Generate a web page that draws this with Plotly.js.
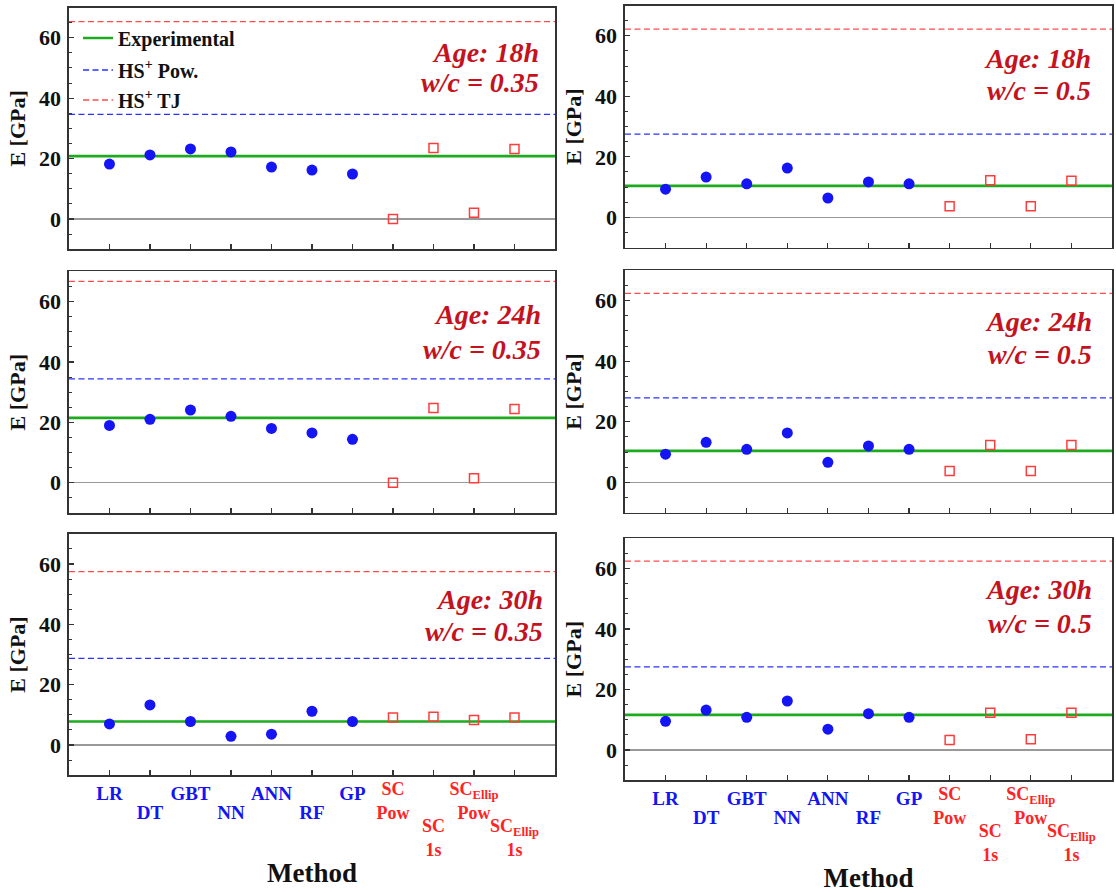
<!DOCTYPE html>
<html><head><meta charset="utf-8">
<script src="https://cdn.plot.ly/plotly-3.0.1.min.js"></script>
<style>html,body{margin:0;padding:0;background:#fff}#chart{width:1116px;height:893px}</style>
</head><body><div id="chart"></div>
<script>
// ---------- data ----------
const methods = ['LR','DT','GBT','NN','ANN','RF','GP','SC Pow','SC 1s','SC Ellip Pow','SC Ellip 1s'];
const tickLabels = ['LR','DT','GBT','NN','ANN','RF','GP','SC<br>Pow','SC<br>1s','SC<sub>Ellip</sub><br>Pow','SC<sub>Ellip</sub><br>1s'];
const yTicks = [0, 20, 40, 60];
const mlMethods = methods.slice(0, 7);
const scMethods = methods.slice(7);
const panelAges = ['18h','18h','24h','24h','30h','30h'];
const panelWC   = ['0.35','0.5','0.35','0.5','0.35','0.5'];
// machine-learning predictions of E [GPa]
const ml_18h_035 = [18.2, 21.2, 23.2, 22.2, 17.2, 16.2, 14.9];
const ml_18h_05  = [9.3, 13.3, 11.1, 16.3, 6.4, 11.7, 11.1];
const ml_24h_035 = [19.0, 21.0, 24.1, 22.0, 18.0, 16.5, 14.4];
const ml_24h_05  = [9.3, 13.2, 10.9, 16.3, 6.6, 12.0, 10.9];
const ml_30h_035 = [7.0, 13.3, 7.8, 2.9, 3.6, 11.2, 7.8];
const ml_30h_05  = [9.5, 13.2, 10.8, 16.2, 6.9, 12.0, 10.8];
// self-consistent scheme estimates of E [GPa]
const sc_18h_035 = [0.0, 23.5, 2.1, 23.2];
const sc_18h_05  = [3.7, 12.3, 3.7, 12.1];
const sc_24h_035 = [0.0, 24.8, 1.5, 24.4];
const sc_24h_05  = [3.7, 12.3, 3.7, 12.3];
const sc_30h_035 = [9.1, 9.4, 8.3, 9.1];
const sc_30h_05  = [3.3, 12.3, 3.6, 12.3];
// reference levels per panel
const expE   = [20.8, 10.4, 21.5, 10.4, 7.8, 11.6];
const hsPowE = [34.6, 27.5, 34.4, 27.9, 28.7, 27.5];
const hsTJE  = [65.3, 62.2, 66.7, 62.4, 57.5, 62.4];

// ---------- layout helpers ----------
const mlSets = [ml_18h_035, ml_18h_05, ml_24h_035, ml_24h_05, ml_30h_035, ml_30h_05];
const scSets = [sc_18h_035, sc_18h_05, sc_24h_035, sc_24h_05, sc_30h_035, sc_30h_05];
const FONT = 'Liberation Serif, Times New Roman, serif';
const BLUE = 'rgb(20,20,245)', RED = 'rgb(255,35,35)', DARKRED = 'rgb(196,18,30)';
const SQRED = 'rgb(255,60,60)';
const xRange = [-1, 11];
const yRange = [-10, 70];
const xIdx = methods.map((m, i) => i);
const xDoms = [[0.0618, 0.4973], [0.5600, 0.9964]];
const yDoms = [[0.7209,0.9916],[0.7227,0.9938],[0.4256,0.6960],[0.4260,0.6972],[0.1319,0.4022],[0.1262,0.3974]];
const annPos = [[0.972,0.813,0.689],[0.962,0.782,0.651],[0.975,0.820,0.678],[0.964,0.788,0.651],[0.979,0.729,0.594],[0.963,0.786,0.648]];
// rows of staggered method labels (indices into methods)
const rows = [
  {idx:[0,2,4,6], color:BLUE, size:19, standoff:5},
  {idx:[1,3,5], color:BLUE, size:19, standoff:24},
  {idx:[7,9], color:RED, size:18, standoff:1},
  {idx:[8,10], color:RED, size:18, standoff:38}
];
const sfx = n => (n === 1 ? '' : String(n));
const bold = s => '<b>' + s + '</b>';

const traces = [];
const legFont = {family:FONT, size:20, weight:'bold', color:'#111'};
const layout = {
  width: 1116, height: 893,
  margin: {l:0, r:0, t:0, b:0},
  paper_bgcolor: '#fff', plot_bgcolor: '#fff',
  font: {family: FONT, color: '#111'},
  annotations: [],
  legend:  {x: 78/1116, xanchor:'left', y: 1-38/893, yanchor:'middle', bgcolor:'rgba(0,0,0,0)', font:legFont},
  legend2: {x: 78/1116, xanchor:'left', y: 1-70/893, yanchor:'middle', bgcolor:'rgba(0,0,0,0)', font:legFont},
  legend3: {x: 78/1116, xanchor:'left', y: 1-100/893, yanchor:'middle', bgcolor:'rgba(0,0,0,0)', font:legFont}
};

function pointTraces(p, xa, ya, subset) {
  // markers of panel p for methods whose index is in subset
  const mlX = [], mlY = [], scX = [], scY = [];
  mlMethods.forEach((m, k) => { const i = methods.indexOf(m); if (subset.includes(i)) { mlX.push(i); mlY.push(mlSets[p][k]); } });
  scMethods.forEach((m, k) => { const i = methods.indexOf(m); if (subset.includes(i)) { scX.push(i); scY.push(scSets[p][k]); } });
  if (mlX.length) traces.push({type:'scatter', mode:'markers', x:mlX, y:mlY, xaxis:xa, yaxis:ya,
    marker:{color:BLUE, size:11, symbol:'circle'}, showlegend:false, name:'ML'});
  if (scX.length) traces.push({type:'scatter', mode:'markers', x:scX, y:scY, xaxis:xa, yaxis:ya,
    marker:{color:SQRED, size:9, symbol:'square-open', line:{width:1.5, color:SQRED}}, showlegend:false, name:'SC'});
}

let extra = 7;
for (let p = 0; p < 6; p++) {
  const n = p + 1, xa = 'x' + sfx(n), ya = 'y' + sfx(n);
  const bottom = p >= 4;
  const first = p === 0;
  traces.push({type:'scatter', mode:'lines', x:xRange, y:[expE[p], expE[p]], xaxis:xa, yaxis:ya,
    line:{color:'rgb(30,170,30)', width:2.6}, name:'Experimental', showlegend:first, legend:'legend', hoverinfo:'skip'});
  traces.push({type:'scatter', mode:'lines', x:xRange, y:[hsPowE[p], hsPowE[p]], xaxis:xa, yaxis:ya,
    line:{color:'rgb(40,50,255)', width:1.3, dash:'6px,3.5px'}, name:'HS<sup>+</sup> Pow.', showlegend:first, legend:'legend2', hoverinfo:'skip'});
  traces.push({type:'scatter', mode:'lines', x:xRange, y:[hsTJE[p], hsTJE[p]], xaxis:xa, yaxis:ya,
    line:{color:'rgb(255,75,75)', width:1.3, dash:'6px,3.5px'}, name:'HS<sup>+</sup> TJ', showlegend:first, legend:'legend3', hoverinfo:'skip'});

  layout['xaxis' + sfx(n)] = {
    domain: xDoms[p % 2], range: xRange, anchor: ya,
    tickmode:'linear', tick0:0, dtick:1,
    showticklabels:false,
    ticks:'inside', ticklen:5, tickwidth:1.2, tickcolor:'#333',
    showline:true, mirror:true, linecolor:'#333', linewidth:1.6,
    showgrid:false, zeroline:false
  };
  layout['yaxis' + sfx(n)] = {
    domain: yDoms[p], range: yRange, anchor: xa,
    tickmode:'array', tickvals: yTicks, ticktext: yTicks.map(v => bold(String(v))),
    ticks:'inside', ticklen:5, tickwidth:1.2, tickcolor:'#333',
    minor:{ticks:'inside', ticklen:3, tickwidth:1, tickcolor:'#333', tickmode:'linear', dtick:5, tick0:0, showgrid:false},
    showline:true, mirror:true, linecolor:'#333', linewidth:1.6,
    showgrid:false, zeroline:true, zerolinecolor:'#999', zerolinewidth:1.2,
    tickfont:{family:FONT, size:22, weight:'bold', color:'#111'},
    ticklabelstandoff: 2,
    title:{text:'<b>E [GPa]</b>', font:{family:FONT, size:22, weight:'bold', color:'#111'}, standoff:7}
  };
  if (bottom) {
    for (let r = 0; r < rows.length; r++) {
      const row = rows[r];
      const id = 'x' + extra;
      const ax = {
        overlaying: xa, anchor: ya, range: xRange, side:'bottom',
        tickmode:'array', tickvals: row.idx, ticktext: row.idx.map(i => bold(tickLabels[i])),
        ticks:'', showline:false, showgrid:false, zeroline:false,
        tickfont:{family:FONT, size:row.size, weight:'bold', color:row.color},
        ticklabelstandoff: row.standoff
      };
      if (r === 0) {
        ax.title = {text:'<b>Method</b>', font:{family:FONT, size:27, weight:'bold', color:'#111'}, standoff:59};
      }
      layout['xaxis' + extra] = ax;
      pointTraces(p, id, ya, row.idx);
      extra++;
    }
  } else {
    pointTraces(p, xa, ya, xIdx);
  }
  const ap = annPos[p];
  layout.annotations.push({xref: xa + ' domain', yref: ya + ' domain', x: ap[0], y: ap[1], xanchor:'right', yanchor:'middle',
    showarrow:false, text:'<b><i>Age: ' + panelAges[p] + '</i></b>', font:{family:FONT, size:28, color:DARKRED}});
  layout.annotations.push({xref: xa + ' domain', yref: ya + ' domain', x: ap[0], y: ap[2], xanchor:'right', yanchor:'middle',
    showarrow:false, text:'<b><i>w/c = ' + panelWC[p] + '</i></b>', font:{family:FONT, size:28, color:DARKRED}});
}

Plotly.newPlot('chart', traces, layout, {staticPlot:true, displayModeBar:false});
</script>
</body></html>
